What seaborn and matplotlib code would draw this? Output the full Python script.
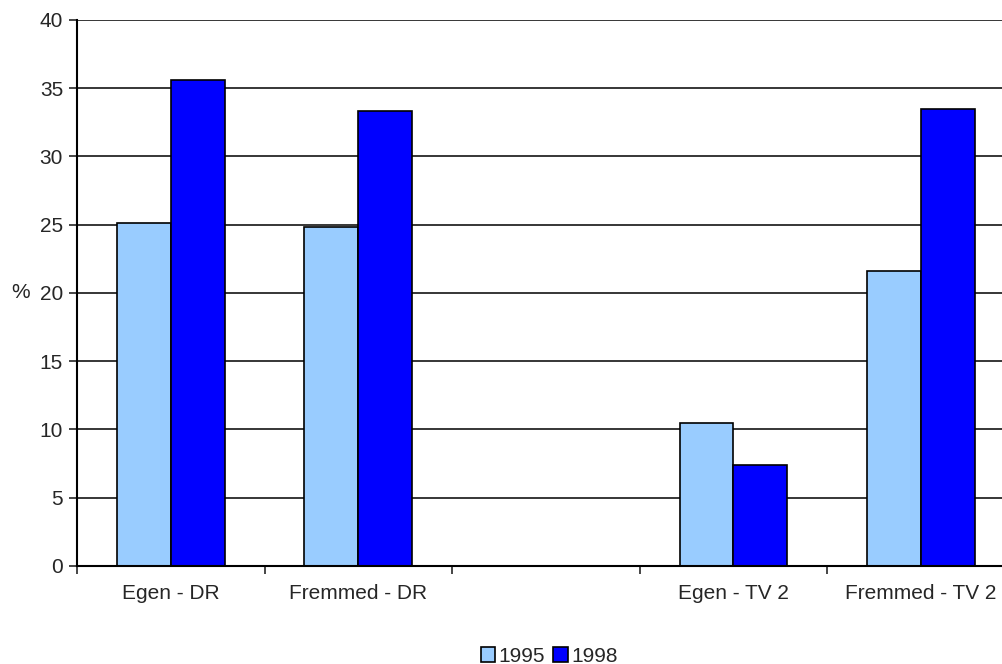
import pandas as pd
import seaborn as sns
import matplotlib.pyplot as plt
from matplotlib.ticker import FixedLocator

categories = ['Egen - DR', 'Fremmed - DR', ' ', 'Egen - TV 2', 'Fremmed - TV 2']
years = ['1995', '1998']
vals_1995 = [25.1, 24.8, None, 10.5, 21.6]
vals_1998 = [35.6, 33.3, None, 7.4, 33.5]

rows = []
for c, a, b in zip(categories, vals_1995, vals_1998):
    if a is not None:
        rows.append((c, '1995', a))
        rows.append((c, '1998', b))
df = pd.DataFrame(rows, columns=['cat', 'year', 'pct'])

sns.set_style('white')
plt.rcParams['font.family'] = ['Liberation Sans', 'DejaVu Sans']
fs = 15

fig = plt.figure(figsize=(10.02, 6.64), dpi=100)
ax = fig.add_axes([0.0768, 0.1476, 0.936, 0.8224])

palette = {'1995': '#99ccff', '1998': '#0000ff'}
sns.barplot(data=df, x='cat', y='pct', hue='year', order=categories,
            hue_order=years, palette=palette, width=0.575, gap=0,
            edgecolor='black', linewidth=1.2, saturation=1, ax=ax,
            errorbar=None)

ax.set_ylim(0, 40)
ax.set_xlim(-0.5, 4.5)
ax.set_yticks(range(0, 41, 5))
ax.yaxis.grid(True, color='black', linewidth=1.1)
ax.set_axisbelow(True)
ax.tick_params(axis='y', direction='out', length=6, width=1.2, labelsize=fs,
               left=True, pad=4)
ax.tick_params(axis='x', which='major', length=0, labelsize=fs, pad=13)
ax.xaxis.set_minor_locator(FixedLocator([-0.5, 0.5, 1.5, 2.5, 3.5, 4.5]))
ax.tick_params(axis='x', which='minor', direction='out', length=6, width=1.2,
               bottom=True)
for s in ['top', 'right']:
    ax.spines[s].set_visible(False)
for s in ['left', 'bottom']:
    ax.spines[s].set_color('black')
    ax.spines[s].set_linewidth(1.5)

ax.set_xlabel('')
ax.set_ylabel('%', rotation=0, fontsize=fs, va='center', ha='center')
ax.yaxis.set_label_coords(-0.0597, 0.5)

h, l = ax.get_legend_handles_labels()
ax.legend(h, l, loc='center', bbox_to_anchor=((0.548 - 0.0768) / 0.936, -0.165),
          ncol=2, frameon=False, fontsize=fs, handlelength=0.7,
          handleheight=0.7, handletextpad=0.15, columnspacing=0.4)

fig.savefig('out.png', dpi=100)
